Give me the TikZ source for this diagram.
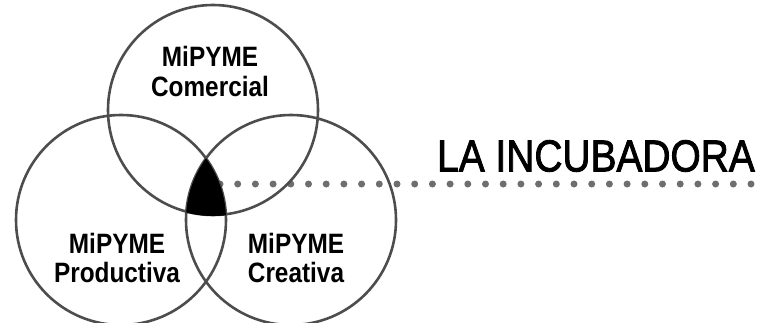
\documentclass[tikz,border=0pt]{standalone}
\usepackage{fontspec}
\setmainfont{Liberation Sans}
\newfontfamily\titlefont[FakeBold=2]{Liberation Sans}
\usepackage{tikz}
\definecolor{ringgray}{HTML}{4D4D4D}
\definecolor{dotgray}{HTML}{6E6E6E}

\begin{document}
\begin{tikzpicture}[x=1pt,y=-1pt,
  ring/.style={circle,draw=ringgray,line width=2.6pt,minimum size=210pt,inner sep=0pt},
  lbl/.style={align=center,inner sep=0pt,xscale=0.87,font=\fontsize{28}{29.5}\selectfont\bfseries},
  dots/.style={dotgray,line width=7pt,line cap=round,dash pattern=on 0pt off 17.7pt}]
\useasboundingbox (0,0) rectangle (759,322);
\coordinate (core) at (220,184);
\coordinate (dotend) at (755,184);
\draw[dots] (core) -- (dotend);
\node[ring] (ccom) at (213,110) {};
\node[ring] (cpro) at (121,220) {};
\node[ring] (ccre) at (291,220) {};
% the common part of the three
\begin{scope}
\clip (cpro.center) circle[radius=105pt];
\clip (ccre.center) circle[radius=105pt];
\fill (ccom.center) circle[radius=106pt];
\end{scope}
\node[lbl] (com) at (210,71.5) {MiPYME\\Comercial};
\node[lbl] (pro) at (117,258) {MiPYME\\Productiva};
\node[lbl] (cre) at (296,258) {MiPYME\\Creativa};
\node[inner sep=0pt,xscale=0.87,font=\titlefont\fontsize{44.7}{48}\selectfont] (title) at (596,156) {LA INCUBADORA};
\end{tikzpicture}
\end{document}
